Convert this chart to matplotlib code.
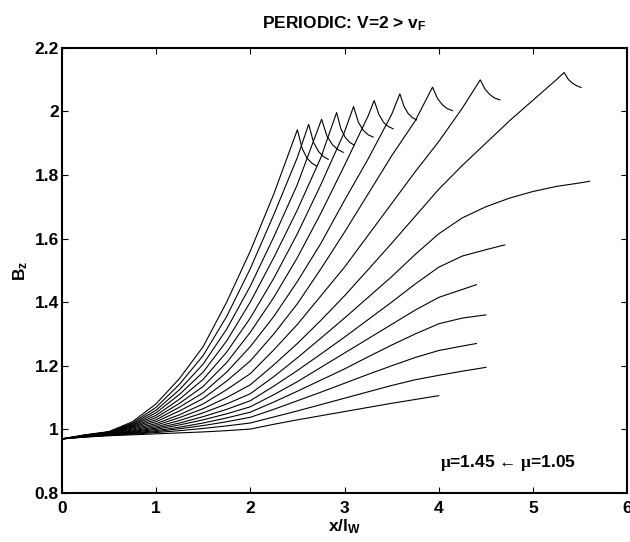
import numpy as np
import matplotlib
matplotlib.use("Agg")
import matplotlib.pyplot as plt

# common x grid for the rising part of every curve
grid_x = [0, 0.25, 0.5, 0.75, 1, 1.25, 1.5, 1.75, 2, 2.25, 2.5, 2.75,
          3, 3.25, 3.5, 3.75, 4, 4.25, 4.5, 4.75, 5, 5.25, 5.5]

# B_z on grid_x, lowest curve first (mu = 1.05 ... 1.45)
rise_y = [
    [.970, .976, .980, .983, .986, .989, .992, .996, 1.001, 1.016, 1.030, 1.043, 1.056, 1.069, 1.082, 1.094],
    [.970, .976, .981, .985, .990, .996, 1.003, 1.011, 1.020, 1.039, 1.058, 1.078, 1.098, 1.118, 1.138, 1.156, 1.170, 1.183],
    [.970, .977, .982, .987, .993, 1.002, 1.012, 1.024, 1.038, 1.063, 1.090, 1.117, 1.145, 1.173, 1.200, 1.226, 1.248, 1.262],
    [.970, .977, .983, .989, .996, 1.007, 1.020, 1.036, 1.054, 1.086, 1.120, 1.155, 1.190, 1.228, 1.265, 1.300, 1.332, 1.350],
    [.970, .978, .984, .991, 1.000, 1.014, 1.030, 1.049, 1.071, 1.109, 1.150, 1.195, 1.240, 1.285, 1.330, 1.375, 1.415, 1.440],
    [.970, .978, .985, .993, 1.004, 1.020, 1.040, 1.063, 1.090, 1.136, 1.185, 1.237, 1.290, 1.345, 1.400, 1.457, 1.510, 1.545, 1.565],
    [.970, .979, .986, .995, 1.008, 1.028, 1.052, 1.080, 1.112, 1.166, 1.225, 1.287, 1.350, 1.415, 1.480, 1.550, 1.615, 1.665, 1.700, 1.727, 1.748, 1.764, 1.775],
    [.970, .979, .987, .998, 1.013, 1.037, 1.065, 1.100, 1.140, 1.203, 1.270, 1.343, 1.420, 1.502, 1.585, 1.670, 1.755, 1.830, 1.900, 1.970, 2.035, 2.100],
    [.970, .980, .988, 1.001, 1.018, 1.046, 1.080, 1.125, 1.175, 1.250, 1.330, 1.420, 1.510, 1.610, 1.710, 1.810, 1.905, 2.010],
    [.970, .980, .989, 1.004, 1.024, 1.058, 1.097, 1.152, 1.215, 1.300, 1.395, 1.505, 1.620, 1.740, 1.860, 1.970],
    [.970, .980, .990, 1.007, 1.030, 1.070, 1.115, 1.180, 1.260, 1.355, 1.465, 1.585, 1.720, 1.850, 1.990],
    [.970, .981, .990, 1.009, 1.037, 1.082, 1.135, 1.210, 1.305, 1.415, 1.540, 1.680, 1.830, 1.985],
    [.970, .981, .991, 1.012, 1.044, 1.095, 1.157, 1.243, 1.350, 1.475, 1.615, 1.770, 1.935],
    [.970, .982, .991, 1.014, 1.052, 1.110, 1.180, 1.278, 1.400, 1.540, 1.690, 1.855],
    [.970, .982, .992, 1.017, 1.060, 1.125, 1.205, 1.315, 1.450, 1.605, 1.770],
    [.970, .982, .992, 1.020, 1.069, 1.142, 1.232, 1.355, 1.505, 1.675, 1.855],
    [.970, .983, .993, 1.024, 1.080, 1.160, 1.260, 1.400, 1.560, 1.740],
]

# end of each curve: plateau end or the cusp peak followed by the falling branch
tail_x = [
    [4.0], [4.5], [4.4], [4.5], [4.4], [4.7], [5.6],
    [5.33, 5.375, 5.42, 5.465, 5.51],
    [4.44, 4.49, 4.54, 4.59, 4.648],
    [3.934, 3.987, 4.04, 4.093, 4.146],
    [3.587, 3.632, 3.676, 3.72, 3.765],
    [3.315, 3.365, 3.415, 3.466, 3.516],
    [3.096, 3.148, 3.2, 3.252, 3.304],
    [2.916, 2.963, 3.01, 3.056, 3.103],
    [2.757, 2.814, 2.872, 2.929, 2.986],
    [2.62, 2.672, 2.724, 2.775, 2.827],
    [2.5, 2.551, 2.602, 2.653, 2.704],
]
tail_y = [
    [1.106], [1.195], [1.270], [1.360], [1.455], [1.580], [1.780],
    [2.122, 2.100, 2.088, 2.080, 2.075],
    [2.099, 2.070, 2.053, 2.042, 2.036],
    [2.076, 2.040, 2.020, 2.008, 2.002],
    [2.055, 2.015, 1.993, 1.980, 1.973],
    [2.034, 1.990, 1.965, 1.952, 1.945],
    [2.015, 1.965, 1.940, 1.926, 1.919],
    [1.996, 1.944, 1.917, 1.902, 1.894],
    [1.975, 1.922, 1.895, 1.880, 1.871],
    [1.959, 1.902, 1.874, 1.858, 1.849],
    [1.942, 1.883, 1.853, 1.837, 1.828],
]

x_ticks = [0, 1, 2, 3, 4, 5, 6]
y_ticks = [0.8, 1, 1.2, 1.4, 1.6, 1.8, 2, 2.2]
y_ticklabels = ["0.8", "1", "1.2", "1.4", "1.6", "1.8", "2", "2.2"]

plt.rcParams['font.family'] = ['Liberation Sans', 'DejaVu Sans']
plt.rcParams['font.weight'] = 'bold'
plt.rcParams['mathtext.fontset'] = 'custom'
plt.rcParams['mathtext.rm'] = 'Liberation Sans:bold'
plt.rcParams['mathtext.it'] = 'Liberation Sans:bold'
plt.rcParams['mathtext.bf'] = 'Liberation Sans:bold'
plt.rcParams['mathtext.sf'] = 'Liberation Serif'

fs = 12.5

fig = plt.figure(figsize=(6.3, 5.42), dpi=100)
ax = fig.add_axes([61.7 / 630, 1 - 493 / 542, 565.6 / 630, 445.3 / 542])

for ys, tx, ty in zip(rise_y, tail_x, tail_y):
    xs = list(grid_x[:len(ys)]) + tx
    ax.plot(xs, list(ys) + ty, color='black', lw=0.8)

ax.set_xlim(0, 6)
ax.set_ylim(0.8, 2.2)
ax.set_xticks(x_ticks)
ax.set_yticks(y_ticks)
ax.set_yticklabels(y_ticklabels)
ax.tick_params(direction='in', length=4.5, width=0.8, labelsize=fs, pad=2,
               top=True, right=True)
ax.tick_params(axis='x', pad=5.5)
for s in ax.spines.values():
    s.set_linewidth(1.5)

ax.set_title(r"PERIODIC: V=2 > v$_F$", fontsize=fs, fontweight='bold', pad=14)
ax.set_xlabel(r"x/l$_W$", fontsize=fs, fontweight='bold', labelpad=1)
ax.set_ylabel(r"B$_z$", fontsize=fs, fontweight='bold', labelpad=3)

ax.text(4.01, 0.894, r"$\mathsf{\mu}$=1.45 ← $\mathsf{\mu}$=1.05",
        fontsize=fs, fontweight='bold', va='center', ha='left')

fig.savefig("out.png", dpi=100)
